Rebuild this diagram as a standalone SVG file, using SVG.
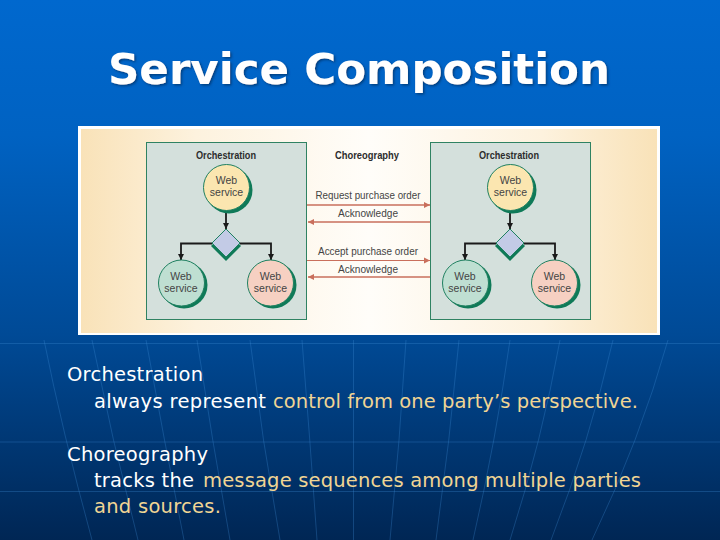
<svg xmlns="http://www.w3.org/2000/svg" width="720" height="540" viewBox="0 0 720 540">
<defs>
<linearGradient id="bg" x1="0" y1="0" x2="0" y2="1"><stop offset="0" stop-color="#0068ce"/><stop offset="0.25" stop-color="#0062c2"/><stop offset="0.62" stop-color="#004a96"/><stop offset="1" stop-color="#002654"/></linearGradient>
<linearGradient id="cream" x1="0" y1="0" x2="1" y2="0"><stop offset="0" stop-color="#f9e2b8"/><stop offset="0.2" stop-color="#fdf2de"/><stop offset="0.5" stop-color="#fffdf9"/><stop offset="0.8" stop-color="#fdf2de"/><stop offset="1" stop-color="#f9e2b8"/></linearGradient>
<filter id="shadow" x="-5%" y="-15%" width="110%" height="130%"><feDropShadow dx="1.500" dy="1.500" stdDeviation="0.800" flood-color="#003a78" flood-opacity="0.9"/></filter>
<marker id="ah" markerUnits="userSpaceOnUse" markerWidth="7" markerHeight="7" refX="6" refY="3.500" orient="auto"><path d="M0 0.500L6 3.500L0 6.500z" fill="#c96f5c"/></marker>
<marker id="bh" markerUnits="userSpaceOnUse" markerWidth="7" markerHeight="7" refX="6" refY="3.500" orient="auto"><path d="M0 0.500L6 3.500L0 6.500z" fill="#1a1a1a"/></marker>
</defs>
<style>
.t{font-family:"DejaVu Sans",Verdana,sans-serif;font-size:19.500px;fill:#fff}
.y{fill:#f0d594}
.l{font-family:"Liberation Sans",Arial,sans-serif;font-size:10.500px;fill:#444;text-anchor:middle}
.h{font-family:"Liberation Sans",Arial,sans-serif;font-size:10.500px;font-weight:bold;fill:#2c2c2c;text-anchor:middle}
.p{fill:#d4e0dc;stroke:#2f8262;stroke-width:1}
.c{stroke:#1f8060;stroke-width:1}
.s{fill:#0f7a58}
.a{stroke:#c96f5c;stroke-width:1.500;fill:none}
.b{stroke:#1a1a1a;stroke-width:1.800;fill:none}
.g{stroke:#3f8fd8;stroke-width:1;fill:none;opacity:.3}
</style>
<rect width="720" height="540" fill="url(#bg)"/>
<g id="grid">
<path class="g" d="M0 343.500H720M0 442H720M0 491.500H720M44 340Q62 430 92 540M92 340Q112 440 138 540M146 340Q164 440 184 540M197 340Q212 440 230 540M250 340Q262 440 280 540M302 340Q310 440 317 540M353.500 340V540M406 340Q400 440 390 540M459 340Q450 440 436 540M510 340Q496 440 473 540M560 340Q542 440 510 540M613 340Q590 440 551 540M668 340Q640 440 592 540"/>
</g>
<text id="title" x="359" y="84" text-anchor="middle" font-family="'DejaVu Sans',Verdana,sans-serif" font-weight="bold" font-size="42" fill="#fff" textLength="502" lengthAdjust="spacingAndGlyphs" filter="url(#shadow)">Service Composition</text>
<g id="figure">
<rect x="78" y="126" width="582" height="209" fill="#fff"/>
<rect x="81" y="129" width="576" height="204" fill="url(#cream)"/>
<rect class="p" x="146.500" y="142.500" width="160" height="177"/>
<rect class="p" x="430.500" y="142.500" width="160" height="177"/>
<text class="h" x="226" y="159" textLength="60" lengthAdjust="spacingAndGlyphs">Orchestration</text>
<text class="h" x="367" y="159" textLength="64" lengthAdjust="spacingAndGlyphs">Choreography</text>
<text class="h" x="509" y="159" textLength="60" lengthAdjust="spacingAndGlyphs">Orchestration</text>
</g>
<g id="connectors">
<path class="b" d="M226 211V229" marker-end="url(#bh)"/>
<path class="b" d="M212 243.500H181V260" marker-end="url(#bh)"/>
<path class="b" d="M240 243.500H271V260" marker-end="url(#bh)"/>
<path class="b" d="M510 211V229" marker-end="url(#bh)"/>
<path class="b" d="M496 243.500H465V260" marker-end="url(#bh)"/>
<path class="b" d="M524 243.500H555V260" marker-end="url(#bh)"/>
<path class="a" d="M307 205H430" marker-end="url(#ah)"/>
<path class="a" d="M430 222H308" marker-end="url(#ah)"/>
<path class="a" style="stroke-width:1" d="M307 260.500H430" marker-end="url(#ah)"/>
<path class="a" d="M430 277H308" marker-end="url(#ah)"/>
</g>
<g id="msg-labels">
<text class="l" x="368" y="199" textLength="105" lengthAdjust="spacingAndGlyphs">Request purchase order</text>
<text class="l" x="368" y="217" textLength="60" lengthAdjust="spacingAndGlyphs">Acknowledge</text>
<text class="l" x="368" y="255" textLength="100" lengthAdjust="spacingAndGlyphs">Accept purchase order</text>
<text class="l" x="368" y="273" textLength="60" lengthAdjust="spacingAndGlyphs">Acknowledge</text>
</g>
<g id="node-l-top"><circle class="s" cx="229" cy="190" r="23.500"/><circle class="c" cx="226.500" cy="187.500" r="23" fill="#fbe6b0"/><text class="l" x="226.500" y="184">Web</text><text class="l" x="226.500" y="196">service</text></g>
<g id="node-l-gate"><path class="s" d="M226 231L241 246L226 261L211 246z"/><path d="M226 229L240 243L226 257L212 243z" fill="#c3cbe6" stroke="#1f8060"/></g>
<g id="node-l-left"><circle class="s" cx="184" cy="285" r="23.500"/><circle class="c" cx="181.500" cy="283" r="23" fill="#bfdfd2"/><text class="l" x="181" y="280">Web</text><text class="l" x="181" y="292">service</text></g>
<g id="node-l-right"><circle class="s" cx="273" cy="285" r="23.500"/><circle class="c" cx="270.500" cy="283" r="23" fill="#f6d0c2"/><text class="l" x="270.500" y="280">Web</text><text class="l" x="270.500" y="292">service</text></g>
<g id="node-r-top"><circle class="s" cx="513" cy="190" r="23.500"/><circle class="c" cx="510.500" cy="187.500" r="23" fill="#fbe6b0"/><text class="l" x="510.500" y="184">Web</text><text class="l" x="510.500" y="196">service</text></g>
<g id="node-r-gate"><path class="s" d="M510 231L525 246L510 261L495 246z"/><path d="M510 229L524 243L510 257L496 243z" fill="#c3cbe6" stroke="#1f8060"/></g>
<g id="node-r-left"><circle class="s" cx="468" cy="285" r="23.500"/><circle class="c" cx="465.500" cy="283" r="23" fill="#bfdfd2"/><text class="l" x="465" y="280">Web</text><text class="l" x="465" y="292">service</text></g>
<g id="node-r-right"><circle class="s" cx="557" cy="285" r="23.500"/><circle class="c" cx="554.500" cy="283" r="23" fill="#f6d0c2"/><text class="l" x="554.500" y="280">Web</text><text class="l" x="554.500" y="292">service</text></g>
<g id="body">
<text class="t" x="67" y="381" textLength="136">Orchestration</text>
<text class="t" y="408"><tspan x="94" textLength="172">always represent</tspan> <tspan class="y" x="273" textLength="365">control from one party’s perspective.</tspan></text>
<text class="t" x="67" y="461" textLength="141">Choreography</text>
<text class="t" y="487"><tspan x="94" textLength="100">tracks the</tspan> <tspan class="y" x="203" textLength="438">message sequences among multiple parties</tspan></text>
<text class="t y" x="94" y="513" textLength="127">and sources.</text>
</g>
</svg>
